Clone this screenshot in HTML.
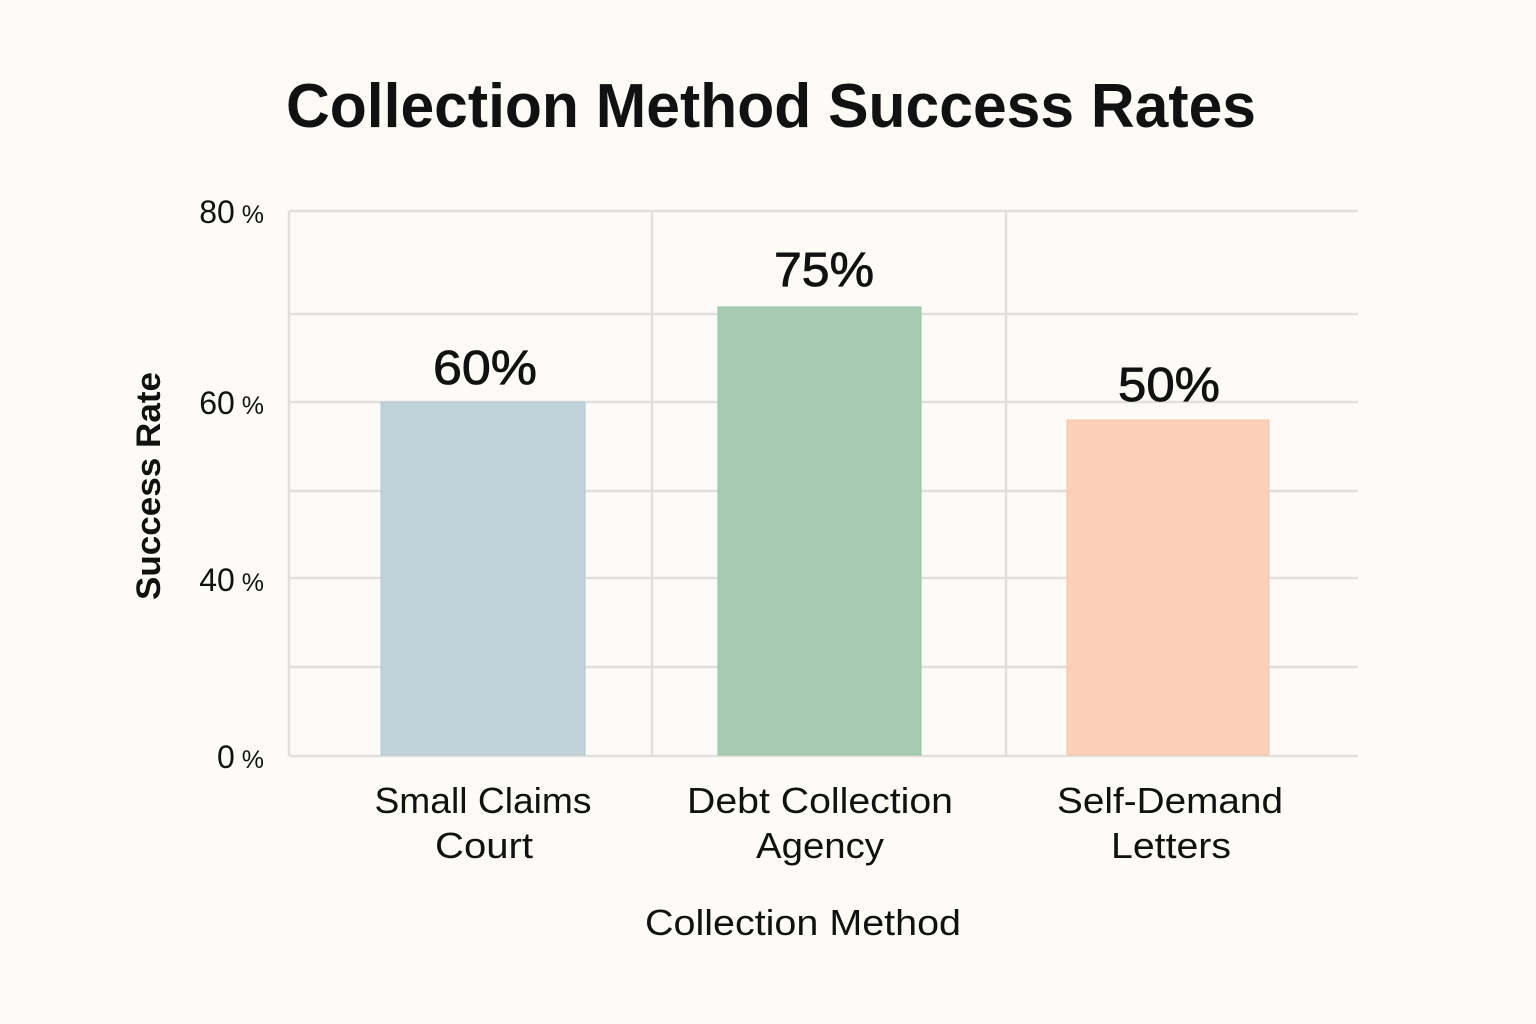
<!DOCTYPE html>
<html><head><meta charset="utf-8"><style>
html,body{margin:0;padding:0;background:#fcfbf7;}
svg{display:block;}
text{font-family:"Liberation Sans",sans-serif;fill:#111;}
</style></head><body>
<svg width="1536" height="1024" viewBox="0 0 1536 1024" xmlns="http://www.w3.org/2000/svg">
<rect width="1536" height="1024" fill="#fcfbf7"/>
<text x="771" y="127" font-size="62" font-weight="bold" text-anchor="middle" textLength="970" lengthAdjust="spacingAndGlyphs">Collection Method Success Rates</text>
<g stroke="#e2e0dc" stroke-width="2.5" fill="none">
<line x1="289" y1="211" x2="1358" y2="211"/>
<line x1="289" y1="314" x2="1358" y2="314"/>
<line x1="289" y1="402" x2="1358" y2="402"/>
<line x1="289" y1="491" x2="1358" y2="491"/>
<line x1="289" y1="578" x2="1358" y2="578"/>
<line x1="289" y1="667" x2="1358" y2="667"/>
<line x1="289" y1="756" x2="1358" y2="756"/>
<line x1="289" y1="211" x2="289" y2="756"/>
<line x1="652" y1="211" x2="652" y2="756"/>
<line x1="1006" y1="211" x2="1006" y2="756"/>
</g>
<rect x="381" y="402" width="204" height="353" fill="#bfd3d8" stroke="#b3c9cf" stroke-width="1"/>
<rect x="718" y="307" width="203" height="448" fill="#a6cdb2" stroke="#98c2a5" stroke-width="1"/>
<rect x="1067" y="420" width="202" height="335" fill="#fcd0b6" stroke="#f5c4a8" stroke-width="1"/>
<g font-size="48" text-anchor="middle" stroke="#111" stroke-width="0.8">
<text x="485" y="384" textLength="104" lengthAdjust="spacingAndGlyphs">60%</text>
<text x="824" y="286" textLength="100" lengthAdjust="spacingAndGlyphs">75%</text>
<text x="1169" y="401" textLength="102" lengthAdjust="spacingAndGlyphs">50%</text>
</g>
<g font-size="32" text-anchor="end">
<text x="264" y="223">80<tspan font-size="25"> %</tspan></text>
<text x="264" y="414">60<tspan font-size="25"> %</tspan></text>
<text x="264" y="591">40<tspan font-size="25"> %</tspan></text>
<text x="264" y="768">0<tspan font-size="25"> %</tspan></text>
</g>
<text transform="translate(160,486) rotate(-90)" font-size="34" text-anchor="middle" font-weight="bold" textLength="228" lengthAdjust="spacingAndGlyphs">Success Rate</text>
<g font-size="36" text-anchor="middle">
<text x="483" y="813" textLength="217" lengthAdjust="spacingAndGlyphs">Small Claims</text>
<text x="484" y="858" textLength="98" lengthAdjust="spacingAndGlyphs">Court</text>
<text x="820" y="813" textLength="266" lengthAdjust="spacingAndGlyphs">Debt Collection</text>
<text x="820" y="858" textLength="128" lengthAdjust="spacingAndGlyphs">Agency</text>
<text x="1170" y="813" textLength="226" lengthAdjust="spacingAndGlyphs">Self-Demand</text>
<text x="1171" y="858" textLength="120" lengthAdjust="spacingAndGlyphs">Letters</text>
<text x="803" y="935" textLength="316" lengthAdjust="spacingAndGlyphs">Collection Method</text>
</g>
</svg>
</body></html>
